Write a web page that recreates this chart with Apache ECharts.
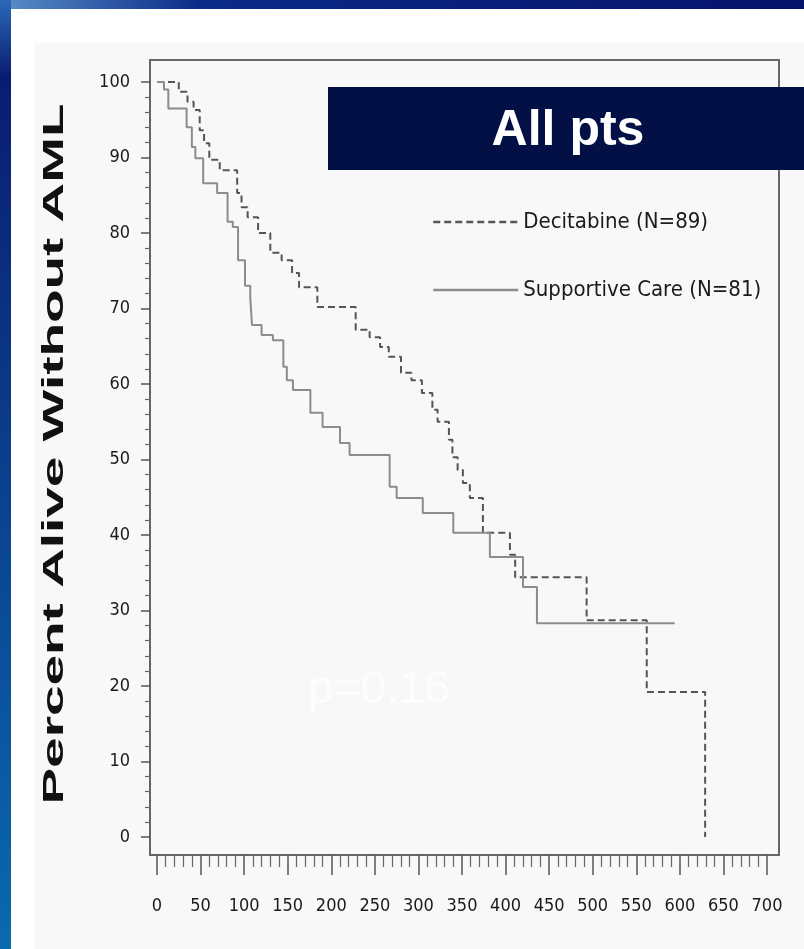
<!DOCTYPE html>
<html>
<head>
<meta charset="utf-8">
<title>All pts - Percent Alive Without AML</title>
<script src="https://cdn.jsdelivr.net/npm/echarts@6/dist/echarts.min.js"></script>
<style>
  html, body { margin: 0; padding: 0; background: #fff; }
  #main { width: 804px; height: 949px; }
</style>
</head>
<body>
<div id="main"></div>
<script>
// Kaplan-Meier steps (days, percent)
var decitabineDays = [0, 25, 35, 42, 49, 54, 60, 72, 92, 97, 104, 116, 130, 143, 155, 163, 184, 228, 244, 256, 266, 280, 292, 304, 316, 322, 335, 339, 345, 351, 359, 374, 405, 411, 493, 562, 629];
var decitabineSurv = [100, 98.7, 97.4, 96.3, 93.6, 91.9, 89.7, 88.3, 85.3, 83.4, 82.1, 80.0, 77.4, 76.4, 74.7, 72.8, 70.2, 67.2, 66.2, 64.9, 63.6, 61.5, 60.5, 58.8, 56.6, 55.0, 52.6, 50.3, 48.6, 46.9, 44.9, 40.3, 37.4, 34.4, 28.7, 19.2, 0];

var supportiveDays = [0, 8, 13, 34, 40, 44, 53, 69, 81, 87, 93, 101, 107, 109, 120, 133, 145, 149, 156, 176, 190, 210, 221, 267, 275, 305, 340, 382, 420, 436, 594];
var supportiveSurv = [100, 99, 96.5, 94, 91.4, 89.9, 86.6, 85.3, 81.5, 80.8, 76.4, 73, 71.5, 67.8, 66.5, 65.8, 62.3, 60.5, 59.2, 56.2, 54.3, 52.2, 50.6, 46.4, 44.9, 42.9, 40.3, 37.1, 33.1, 28.3, 28.3];

var seriesNames = ['Decitabine (N=89)', 'Supportive Care (N=81)'];
var yTitle = 'Percent Alive Without AML';
var boxTitle = 'All pts';
var pText = 'p=0.16';

function pairs(xs, ys) {
  var out = [];
  for (var i = 0; i < xs.length; i++) out.push([xs[i], ys[i]]);
  return out;
}

var myChart = echarts.init(document.getElementById('main'));
var narrow = '"DejaVu Sans Condensed", "Liberation Sans", sans-serif';

var option = {
  backgroundColor: '#ffffff',
  animation: false,
  graphic: [
    // slide decoration
    { type: 'rect', z: -10, shape: { x: 35, y: 43, width: 769, height: 906 }, style: { fill: '#f8f8f8' } },
    { type: 'rect', z: 50, shape: { x: 0, y: 0, width: 804, height: 9 },
      style: { fill: new echarts.graphic.LinearGradient(0, 0, 1, 0, [
        { offset: 0, color: '#5a8fc8' }, { offset: 0.25, color: '#0b2a88' }, { offset: 1, color: '#06126a' }]) } },
    { type: 'rect', z: 50, shape: { x: 0, y: 0, width: 11, height: 949 },
      style: { fill: new echarts.graphic.LinearGradient(0, 0, 0, 1, [
        { offset: 0, color: '#2a6ab8' }, { offset: 0.08, color: '#0a1c72' }, { offset: 1, color: '#0a6aae' }]) } },
    // title box
    { type: 'rect', z: 60, shape: { x: 328, y: 87, width: 480, height: 83 }, style: { fill: '#021046' } },
    { type: 'text', z: 61, x: 568, y: 131,
      style: { text: boxTitle, fill: '#ffffff', font: 'bold 50px "Liberation Sans", Arial, sans-serif',
        align: 'center', verticalAlign: 'middle', textAlign: 'center', textVerticalAlign: 'middle' } },
    // y axis title (stretched like the source image)
    { type: 'text', z: 60, x: 55, y: 454, rotation: Math.PI / 2, scaleX: 1.83, scaleY: 1,
      style: { text: yTitle, fill: '#111', font: 'bold 30px "Liberation Sans", Arial, sans-serif',
        align: 'center', verticalAlign: 'middle', textAlign: 'center', textVerticalAlign: 'middle' } },
    // faint p value
    { type: 'text', z: 60, x: 308, y: 690,
      style: { text: pText, fill: '#fdfdfd', font: '46px "Liberation Sans", Arial, sans-serif',
        align: 'left', verticalAlign: 'middle', textAlign: 'left', textVerticalAlign: 'middle' } }
  ],
  legend: {
    orient: 'vertical',
    left: 432,
    top: 209,
    padding: 0,
    itemWidth: 85,
    itemHeight: 14,
    itemGap: 42,
    itemStyle: { opacity: 0, color: 'rgba(0,0,0,0)', borderWidth: 0 },
    lineStyle: { width: 2.5 },
    textStyle: { fontFamily: narrow, fontSize: 22, color: '#1a1a1a', lineHeight: 26 },
    data: seriesNames
  },
  grid: [
    { left: 157, right: 37, top: 82, bottom: 112, show: false },
    { left: 150, right: 25, top: 60, bottom: 94, show: true, borderColor: '#666', borderWidth: 2, backgroundColor: 'transparent' }
  ],
  xAxis: [
    {
      type: 'value', gridIndex: 0, min: 0, max: 700, interval: 50, offset: 18,
      axisLine: { show: true, onZero: false, lineStyle: { color: '#666', width: 2 } },
      axisTick: { show: true, inside: false, length: 20, lineStyle: { color: '#555', width: 1.5 } },
      minorTick: { show: true, splitNumber: 5, length: 12, lineStyle: { color: '#666', width: 1.2 } },
      splitLine: { show: false },
      axisLabel: { margin: 42, color: '#1a1a1a', fontFamily: narrow, fontSize: 18 }
    },
    { type: 'value', gridIndex: 1, min: 0, max: 1, show: false }
  ],
  yAxis: [
    {
      type: 'value', gridIndex: 0, min: 0, max: 100, interval: 10, offset: 7,
      axisLine: { show: true, onZero: false, lineStyle: { color: '#666', width: 2 } },
      axisTick: { show: true, inside: false, length: 9, lineStyle: { color: '#555', width: 1.5 } },
      minorTick: { show: true, splitNumber: 5, length: 5, lineStyle: { color: '#666', width: 1.2 } },
      splitLine: { show: false },
      axisLabel: { margin: 20, color: '#1a1a1a', fontFamily: narrow, fontSize: 18 }
    },
    { type: 'value', gridIndex: 1, min: 0, max: 1, show: false }
  ],
  series: [
    {
      name: seriesNames[0], type: 'line', step: 'end', xAxisIndex: 0, yAxisIndex: 0,
      showSymbol: false, symbol: 'none',
      lineStyle: { color: '#555', width: 2, type: [7, 4] },
      itemStyle: { color: '#555' },
      data: pairs(decitabineDays, decitabineSurv)
    },
    {
      name: seriesNames[1], type: 'line', step: 'end', xAxisIndex: 0, yAxisIndex: 0,
      showSymbol: false, symbol: 'none',
      lineStyle: { color: '#8c8c8c', width: 2 },
      itemStyle: { color: '#8c8c8c' },
      data: pairs(supportiveDays, supportiveSurv)
    }
  ]
};

myChart.setOption(option);
</script>
</body>
</html>
